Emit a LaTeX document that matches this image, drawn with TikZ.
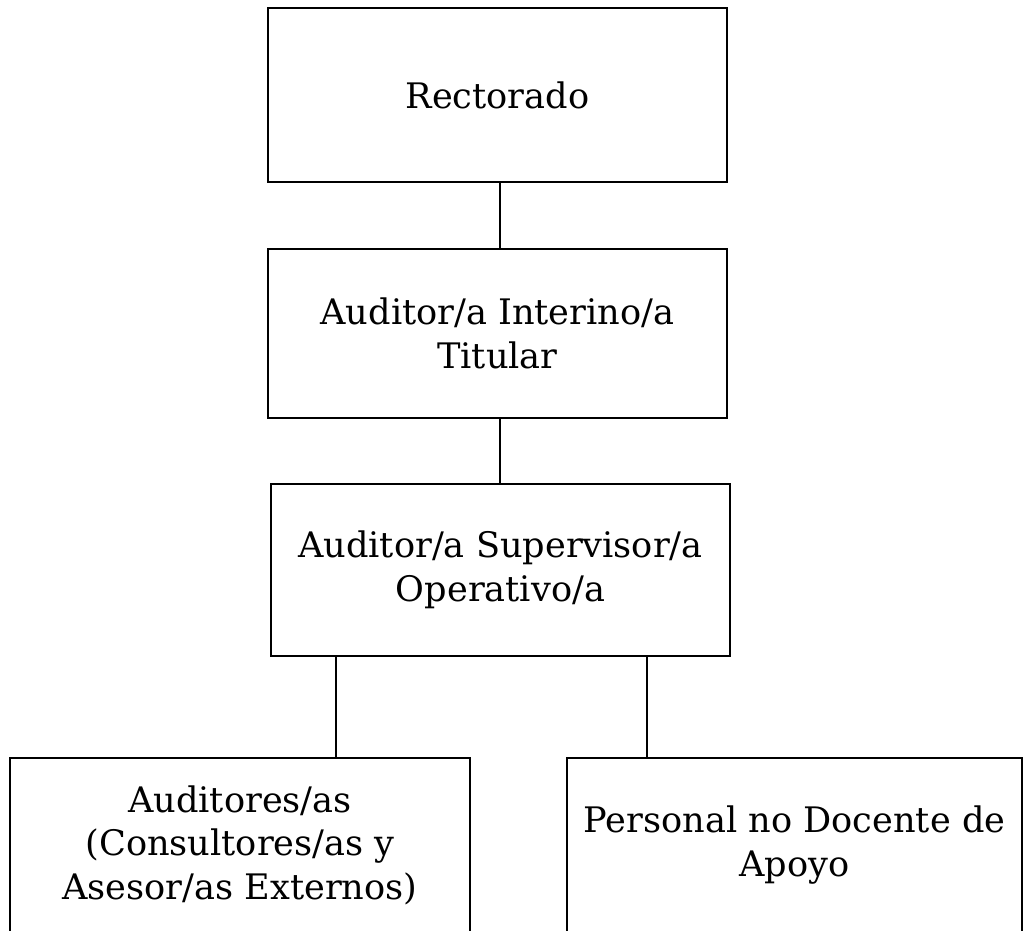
\documentclass[tikz,border=0pt]{standalone}
\usepackage{fontspec}
\setmainfont{DejaVu Serif}
\usepackage{tikz}
\usetikzlibrary{arrows.meta, shapes}

\begin{document}
\begin{tikzpicture}[x=0.025cm,y=-0.025cm]
\clip (0,0) rectangle (1025,930);
\fill[white] (0,0) rectangle (1025,930);
\begin{scope}[every node/.style={rectangle,draw,line width=2pt,align=center,
              font=\fontsize{25}{31}\selectfont,inner sep=0pt}]
  \node[minimum width=11.475cm,minimum height=4.35cm] (R) at (497.5,95) {Rectorado};
    \node[minimum width=11.475cm,minimum height=4.225cm] (AIT) at (497.5,333.5) {Auditor/a Interino/a\\Titular};
    \node[minimum width=11.475cm,minimum height=4.3cm] (ASO) at (500.5,570) {Auditor/a Supervisor/a\\Operativo/a};
    \node[minimum width=11.5cm,minimum height=4.35cm] (AUX) at (240,845) {Auditores/as\\(Consultores/as y\\Asesor/as Externos)};
    \node[minimum width=11.375cm,minimum height=4.35cm] (PND) at (794.5,845) {Personal no Docente de\\Apoyo};
\end{scope}

\coordinate (cl) at (336,656);
\coordinate (cr) at (647,656);
\begin{scope}[every edge/.style={draw=black, line width=0.9pt}]
    \path (R.south -| 500,0) edge (AIT.north -| 500,0);
    \path (AIT.south -| 500,0) edge (ASO.north -| 500,0);
    \path (cl) edge (cl |- AUX.north);
    \path (cr) edge (cr |- PND.north);
\end{scope}
\end{tikzpicture}
\end{document}
